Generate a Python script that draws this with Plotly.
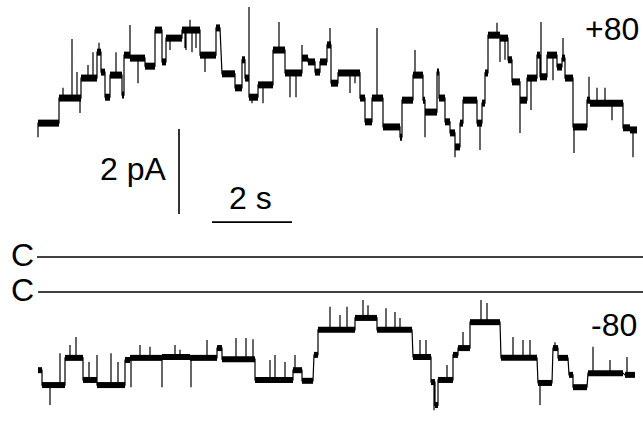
import plotly.graph_objects as go

# ---- +80 mV trace: step segments (t_start s, t_end s, current pA) ----
up_t0 = [0.0, 0.525, 1.075, 1.475, 1.575, 1.675, 1.8, 2.1, 2.15, 2.3, 2.675, 2.925, 3.1, 3.2, 3.6, 4.05, 4.45, 4.6,
         4.925, 5.1, 5.175, 5.275, 5.5, 5.875, 6.175, 6.6, 6.75, 6.925, 7.05, 7.225, 7.325, 7.5, 8.05, 8.175, 8.35,
         8.625, 9.05, 9.1, 9.375, 9.625, 9.675, 9.975, 10.025, 10.175, 10.3, 10.425, 10.55, 10.625, 10.975, 11.1,
         11.175, 11.25, 11.55, 11.75, 11.85, 12.05, 12.225, 12.475, 12.55, 12.725, 12.975, 13.1, 13.175, 13.375,
         13.725, 13.8, 14.625, 14.8]
up_t1 = [0.525, 1.075, 1.475, 1.575, 1.675, 1.8, 2.1, 2.15, 2.3, 2.675, 2.925, 3.1, 3.2, 3.6, 4.05, 4.45, 4.55, 4.925,
         5.1, 5.175, 5.275, 5.5, 5.875, 6.175, 6.6, 6.75, 6.925, 7.05, 7.225, 7.325, 7.5, 8.05, 8.175, 8.35, 8.625,
         9.05, 9.1, 9.375, 9.625, 9.675, 9.975, 10.025, 10.175, 10.3, 10.425, 10.55, 10.625, 10.975, 11.1, 11.175,
         11.25, 11.55, 11.75, 11.85, 12.05, 12.225, 12.475, 12.55, 12.725, 12.975, 13.1, 13.175, 13.375, 13.725,
         13.8, 14.625, 14.8, 14.975]
up_lvl = [3.15, 3.74, 4.21, 4.82, 4.35, 3.76, 4.28, 3.81, 4.75, 4.68, 4.49, 5.34, 4.59, 5.15, 5.34, 4.75, 5.39, 4.31,
          3.98, 4.64, 4.21, 3.76, 4.05, 4.87, 4.33, 4.68, 4.59, 4.35, 4.59, 4.99, 4.09, 4.33, 3.74, 3.18, 3.74,
          3.06, 2.82, 3.69, 4.28, 3.69, 3.41, 4.35, 3.74, 3.18, 2.92, 2.59, 3.15, 3.69, 3.15, 3.62,
          4.33, 5.22, 5.15, 4.64, 4.12, 3.69, 4.21, 4.75, 4.24, 4.75, 4.47, 4.68, 4.21, 3.06,
          3.69, 3.62, 3.04, 2.99]
# brief spikes / flickers (time s, peak pA)
up_spk_t = [0.0, 0.625, 0.85, 0.975, 1.05, 1.25, 1.375, 1.525, 1.95, 2.3, 2.5, 3.3, 3.675, 3.7, 3.8, 3.85, 3.95,
            4.175, 4.55, 5.275, 5.35, 5.625, 6.025, 6.3, 6.45, 6.6, 7.3, 7.8, 7.925, 8.475, 9.425, 9.675, 10.425,
            11.05, 11.475, 11.55, 11.675, 12.05, 12.325, 12.575, 12.875, 13.125, 13.4, 13.775, 13.975, 14.175,
            14.35, 14.875]
up_spk_v = [2.82, 3.98, 5.13, 4.35, 3.39, 4.52, 4.82, 5.04, 4.82, 5.46, 4.09, 4.87, 4.92, 4.87, 5.58, 4.82, 4.92,
            4.35, 3.53, 5.88, 3.62, 3.62, 5.53, 3.76, 3.76, 4.99, 5.39, 3.86, 4.09, 5.39, 4.87, 2.82, 2.35,
            2.52, 5.51, 4.59, 4.64, 2.92, 3.46, 5.53, 4.16, 5.15, 2.45, 4.24, 3.98, 3.98,
            3.22, 2.35]

# ---- -80 mV trace ----
dn_t0 = [0.0, 0.1, 0.675, 1.125, 1.475, 2.175, 2.3, 3.1, 3.8, 4.475, 4.6, 5.425, 6.375, 6.6, 6.9, 7.0, 7.925, 8.475,
         9.375, 9.825, 9.925, 10.0, 10.375, 10.5, 10.8, 11.575, 12.5, 12.875, 13.0, 13.275, 13.375, 13.75, 14.675]
dn_t1 = [0.1, 0.675, 1.125, 1.475, 2.175, 2.3, 3.1, 3.8, 4.475, 4.6, 5.425, 6.375, 6.6, 6.875, 7.0, 7.925, 8.475,
         9.35, 9.825, 9.925, 10.0, 10.375, 10.5, 10.8, 11.55, 12.475, 12.85, 13.0, 13.25, 13.375, 13.725, 14.625,
         14.925]
dn_lvl = [-1.84, -2.19, -1.55, -2.07, -2.19, -1.60, -1.55, -1.53, -1.55, -1.32, -1.58, -2.07, -1.84, -2.09, -1.48,
          -0.89, -0.61, -0.89, -1.53, -2.12, -2.66, -2.07, -1.48, -1.32, -0.71, -1.55, -2.14, -1.32, -1.55, -1.95,
          -2.24, -1.91, -1.95]
dn_spk_t = [0.3, 0.55, 0.8, 0.95, 1.275, 1.475, 1.825, 2.0, 2.325, 2.55, 2.8, 3.1, 3.425, 3.55, 3.825, 4.225, 4.95,
            5.2, 5.375, 5.8, 5.925, 6.175, 6.425, 6.875, 7.3, 7.55, 7.725, 8.125, 8.25, 8.7, 8.925, 9.05, 9.55, 9.7,
            9.9, 10.225, 10.625, 11.075, 11.225, 11.875, 12.125, 12.3, 12.55, 12.925, 13.875, 14.3, 14.65, 14.725]
dn_spk_v = [-2.66, -1.44, -1.25, -1.06, -1.65, -1.48, -1.44, -1.65, -2.24, -1.25, -1.29, -2.24, -1.25, -1.36, -2.24,
            -1.13, -1.08, -1.08, -1.11, -1.60, -1.48, -1.65, -1.48, -2.82, -0.35, -0.54, -0.35, -0.19, -0.31, -0.38,
            -0.47, -0.61, -1.13, -1.13, -2.78, -1.72, -0.94, -0.19, -0.26, -1.06, -1.13, -1.13, -2.66, -1.18, -1.29,
            -1.60, -3.25, -1.53]


def build(t0, t1, lvl, st, sv):
    """Thin connected trace with the spikes."""
    xs, ys = [], []
    for a, b, v in zip(t0, t1, lvl):
        pts = sorted((t, p) for t, p in zip(st, sv) if a <= t < b or (b == t1[-1] and t == b))
        xs.append(a); ys.append(v)
        for t, p in pts:
            xs += [t, t, t]; ys += [v, p, v]
        xs.append(b); ys.append(v)
    return xs, ys


def band(t0, t1, lvl):
    """Open-channel noise band: separate horizontal pieces."""
    xs, ys = [], []
    for a, b, v in zip(t0, t1, lvl):
        xs += [a, b, None]; ys += [v, v, None]
    return xs, ys


ux, uy = build(up_t0, up_t1, up_lvl, up_spk_t, up_spk_v)
dx, dy = build(dn_t0, dn_t1, dn_lvl, dn_spk_t, dn_spk_v)
ubx, uby = band(up_t0, up_t1, up_lvl)
dbx, dby = band(dn_t0, dn_t1, dn_lvl)

fig = go.Figure()
fig.add_trace(go.Scatter(x=ubx, y=uby, mode="lines", line=dict(color="black", width=7), yaxis="y", hoverinfo="skip"))
fig.add_trace(go.Scatter(x=ux, y=uy, mode="lines", line=dict(color="black", width=1.2), yaxis="y", hoverinfo="skip"))
fig.add_trace(go.Scatter(x=dbx, y=dby, mode="lines", line=dict(color="black", width=6), yaxis="y2", hoverinfo="skip"))
fig.add_trace(go.Scatter(x=dx, y=dy, mode="lines", line=dict(color="black", width=1.2), yaxis="y2", hoverinfo="skip"))

# closed levels
fig.add_shape(type="line", x0=-0.025, x1=15.2, y0=0, y1=0, xref="x", yref="y", line=dict(color="black", width=1.3))
fig.add_shape(type="line", x0=0.0, x1=15.2, y0=0, y1=0, xref="x", yref="y2", line=dict(color="black", width=1.3))
# scale bars: 2 pA, 2 s
fig.add_shape(type="line", x0=3.525, x1=3.525, y0=1.01, y1=3.01, xref="x", yref="y", line=dict(color="black", width=1.6))
fig.add_shape(type="line", x0=4.35, x1=6.35, y0=0.82, y1=0.82, xref="x", yref="y", line=dict(color="black", width=1.6))

W, H = 643, 433
font = dict(family="Liberation Sans, Arial", size=32, color="black")


def ann(text, px, py, xa):
    fig.add_annotation(text=text, x=px / W, y=1 - py / H, xref="paper", yref="paper", xanchor=xa, yanchor="middle",
                       showarrow=False, font=font)


ann("+80", 641, 29, "right")
ann("-80", 639, 325, "right")
ann("2 pA", 168, 169, "right")
ann("2 s", 250, 198, "center")
ann("C", 22, 255, "center")
ann("C", 22, 290, "center")

fig.update_layout(
    width=W, height=H, margin=dict(l=0, r=0, t=0, b=0), paper_bgcolor="white", plot_bgcolor="white",
    showlegend=False,
    xaxis=dict(range=[-0.95, 15.125], visible=False, fixedrange=True),
    yaxis=dict(range=[-4.141, 6.047], visible=False, fixedrange=True),
    yaxis2=dict(range=[-3.318, 6.871], visible=False, overlaying="y", fixedrange=True),
)
fig.write_html("out.html")
